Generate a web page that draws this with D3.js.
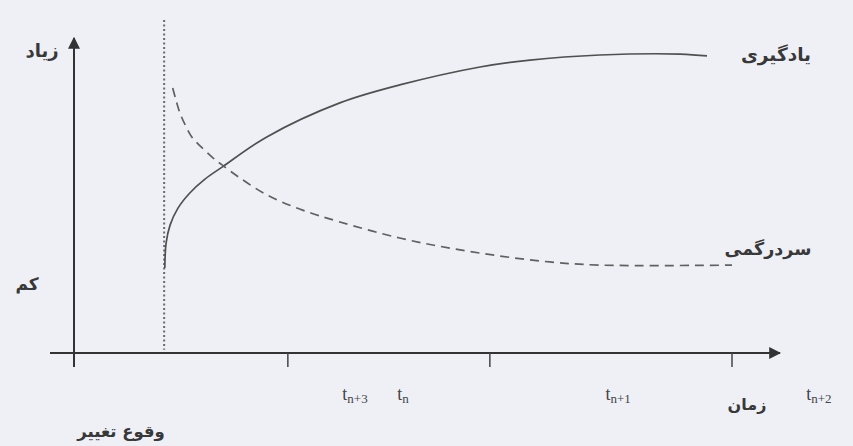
<!DOCTYPE html>
<html>
<head>
<meta charset="utf-8">
<script src="https://cdn.jsdelivr.net/npm/d3@7"></script>
<style>
    html, body { margin: 0; padding: 0; background: #eef0f6; }
    #chart { width: 853px; height: 446px; }
    .fa { font-family: "DejaVu Sans", sans-serif; font-weight: bold; fill: #383838; }
    .tl { font-family: "Liberation Serif", serif; fill: #444; font-size: 18px; }
</style>
</head>
<body>
<div id="chart"></div>
<script>
// Learning vs confusion after a change (time on x, level on y)

const learningT = [13.8, 14.0, 14.6, 15.8, 17.6, 19.9, 22.5, 29.3, 40.4, 49.5, 61.7, 69.3, 79.9, 92.1, 96.2];
const learningV = [27.0, 34.9, 40.6, 46.0, 50.8, 55.2, 59.0, 68.6, 79.4, 85.1, 90.8, 93.0, 94.6, 94.9, 94.3];

const confusionT = [15.0, 15.5, 16.1, 16.9, 17.9, 19.2, 20.986, 22.5, 25.2, 29.3, 34.3, 40.4, 49.5, 57.1, 64.7, 72.3, 79.9, 100];
const confusionV = [84.1, 80.3, 76.2, 72.4, 68.6, 65.7, 62.2, 59.7, 55.6, 50.2, 45.7, 41.6, 36.5, 33.3, 30.8, 28.9, 27.9, 27.9];

const changeT = 13.7;
const tickT = [32.5, 63.2, 100];

const timeLabels = [
    { base: "t", sub: "n+3", t: 42.7 },
    { base: "t", sub: "n", t: 50.0 },
    { base: "t", sub: "n+1", t: 82.7 },
    { base: "t", sub: "n+2", t: 113.2 }
];

const seriesNames = ["یادگیری", "سردرگمی"];
const yLabels = ["زیاد", "کم"];
const xTitle = "زمان";
const changeLabel = "وقوع تغییر";

const width = 853, height = 446;

const x = d3.scaleLinear().domain([0, 100]).range([74, 732]);
const y = d3.scaleLinear().domain([0, 100]).range([353, 38]);

const svg = d3.select("#chart").append("svg")
    .attr("width", width)
    .attr("height", height);

svg.append("rect").attr("width", width).attr("height", height).attr("fill", "#eef0f6");

const defs = svg.append("defs");
defs.append("marker")
    .attr("id", "arrow")
    .attr("viewBox", "0 0 10 10")
    .attr("refX", 9).attr("refY", 5)
    .attr("markerWidth", 6).attr("markerHeight", 6)
    .attr("markerUnits", "strokeWidth")
    .attr("orient", "auto")
    .append("path")
    .attr("d", "M0,0 L10,5 L0,10 Z")
    .attr("fill", "#333");

// Axes
const x0 = x(0), y0 = y(0);
svg.append("line")
    .attr("x1", x0 - 24).attr("y1", y0)
    .attr("x2", x(100) + 48).attr("y2", y0)
    .attr("stroke", "#333").attr("stroke-width", 2)
    .attr("marker-end", "url(#arrow)");

svg.append("line")
    .attr("x1", x0).attr("y1", y0 + 14)
    .attr("x2", x0).attr("y2", y(100))
    .attr("stroke", "#333").attr("stroke-width", 2)
    .attr("marker-end", "url(#arrow)");

svg.selectAll(".tick")
    .data(tickT)
    .enter()
    .append("line")
    .attr("class", "tick")
    .attr("x1", d => x(d)).attr("x2", d => x(d))
    .attr("y1", y0).attr("y2", y0 + 14)
    .attr("stroke", "#444").attr("stroke-width", 1.5);

// Moment of change
svg.append("line")
    .attr("x1", x(changeT)).attr("x2", x(changeT))
    .attr("y1", y(105.7)).attr("y2", y(1))
    .attr("stroke", "#6a6a6a").attr("stroke-width", 2)
    .attr("stroke-dasharray", "2,2.5");

// Curves
const line = d3.line()
    .x(d => x(d[0]))
    .y(d => y(d[1]))
    .curve(d3.curveCatmullRom.alpha(0.5));

svg.append("path")
    .datum(d3.zip(learningT, learningV))
    .attr("d", line)
    .attr("fill", "none")
    .attr("stroke", "#505050")
    .attr("stroke-width", 1.7);

svg.append("path")
    .datum(d3.zip(confusionT, confusionV))
    .attr("d", line)
    .attr("fill", "none")
    .attr("stroke", "#606060")
    .attr("stroke-width", 1.7)
    .attr("stroke-dasharray", "9,6");

// Persian labels
const faLabels = [
    { text: seriesNames[0], x: 776, y: 61, size: 18.5 },
    { text: seriesNames[1], x: 768, y: 255, size: 17.5 },
    { text: yLabels[0], x: 42, y: 57, size: 18 },
    { text: yLabels[1], x: 27, y: 290, size: 17 },
    { text: xTitle, x: 747, y: 410, size: 16 },
    { text: changeLabel, x: 121, y: 437, size: 16.5 }
];

svg.selectAll(".fa")
    .data(faLabels)
    .enter()
    .append("text")
    .attr("class", "fa")
    .attr("x", d => d.x)
    .attr("y", d => d.y)
    .attr("font-size", d => d.size)
    .attr("text-anchor", "middle")
    .text(d => d.text);

// Time labels
const tl = svg.selectAll(".tl")
    .data(timeLabels)
    .enter()
    .append("text")
    .attr("class", "tl")
    .attr("x", d => x(d.t))
    .attr("y", 400)
    .attr("text-anchor", "middle");

tl.append("tspan").text(d => d.base);
tl.append("tspan")
    .attr("dy", 3)
    .attr("font-size", 13)
    .text(d => d.sub);
</script>
</body>
</html>
